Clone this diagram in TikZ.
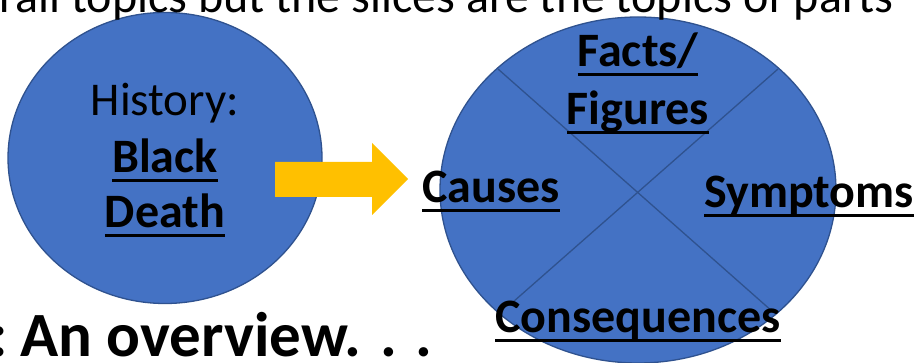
\documentclass[tikz,border=0pt]{standalone}
\usepackage{fontspec}
\setmainfont{Carlito}
\usetikzlibrary{shapes.geometric}
\definecolor{slideblue}{HTML}{4472C4}
\definecolor{edgeblue}{HTML}{2F528F}
\definecolor{arrowgold}{HTML}{FFC000}
\newcommand{\ulword}[1]{\setbox0\hbox{#1}\rlap{\rule[-9pt]{\wd0}{3pt}}\box0}

\begin{document}
\begin{tikzpicture}[x=1pt,y=-1pt,
  blob/.style={ellipse,fill=slideblue,draw=edgeblue,line width=1.3pt,inner sep=0pt},
  slice/.style={draw=edgeblue,line width=1.3pt},
  plain/.style={anchor=base,inner sep=0pt,font=\fontsize{47}{52}\selectfont},
  topic/.style={anchor=base,inner sep=0pt,font=\fontsize{48}{54}\selectfont\bfseries}]

\useasboundingbox (0,0) rectangle (916,363);
\clip (0,0) rectangle (916,363);

% the two circles
\node[blob,minimum width=314pt,minimum height=291pt] (topic) at (165,158) {};
\node[blob,minimum width=396pt,minimum height=346pt] (slices) at (638,190) {};

% cross cutting the slices
\coordinate (ul) at (498,69);
\coordinate (ur) at (778,69);
\coordinate (ll) at (513,302);
\coordinate (lr) at (773,312);
\draw[slice] (ul) -- (lr);
\draw[slice] (ur) -- (ll);

% arrow
\fill[arrowgold] (275,162) -- (372,162) -- (372,143) -- (408,179)
  -- (372,215) -- (372,197) -- (275,197) -- cycle;

% texts
\node[plain,anchor=base east,font=\fontsize{48}{52}\selectfont] (head) at (894,13) {overall topics but the slices are the topics of parts};
\node[plain] (hist) at (165,116) {History:};
\node[topic] (black) at (165,173) {\ulword{Black}};
\node[topic] (death) at (165,228) {\ulword{Death}};
\node[topic] (facts) at (638,67) {\ulword{Facts/}};
\node[topic] (figs) at (638,125) {\ulword{Figures}};
\node[topic] (causes) at (491,203) {\ulword{Causes}};
\node[topic] (sympt) at (809,208) {\ulword{Symptoms}};
\node[topic] (conseq) at (638,333) {\ulword{Consequences}};
\node[anchor=base east,inner sep=0pt,font=\fontsize{63}{70}\selectfont\bfseries] (over) at (433,357) {:\kern-6pt{} An overview. . .};

\end{tikzpicture}
\end{document}
